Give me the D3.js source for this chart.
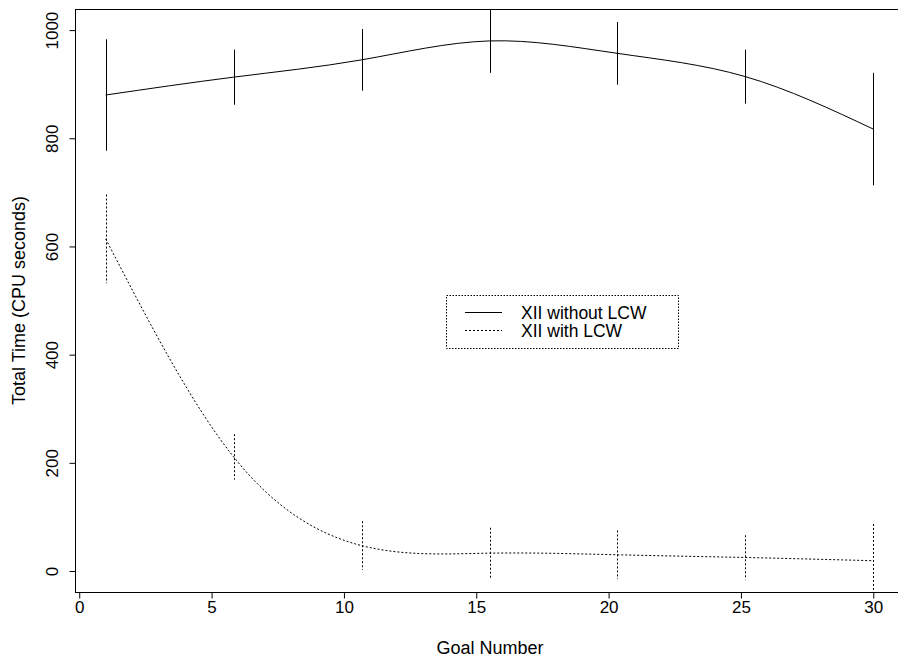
<!DOCTYPE html>
<html><head><meta charset="utf-8">
<script src="https://cdn.jsdelivr.net/npm/d3@7"></script>
<style>body{margin:0;background:#fff}svg{display:block}text{font-family:"Liberation Sans",Arial,sans-serif;fill:#000}</style>
</head><body><svg id="c" width="898" height="658"></svg>
<script>
const goals = [1, 5.833, 10.667, 15.5, 20.333, 25.167, 30];
const withoutLCW = [880, 913, 945, 980, 957, 914, 817];
const withoutLCWErr = [103, 51, 57, 59, 58, 50, 104];
const withLCW = [614, 211, 47, 33, 30, 25, 19];
const withLCWErr = [82, 42, 45, 47, 45, 41, 68];
const xTicks = [0, 5, 10, 15, 20, 25, 30];
const yTicks = [0, 200, 400, 600, 800, 1000];
const seriesNames = ["XII without LCW", "XII with LCW"];

const svg = d3.select("#c");
const L = 75, T = 9, B = 592, R = 904;
const x = d3.scaleLinear().domain([-0.16, 31.16]).range([L, R]);
const y = d3.scaleLinear().domain([-38.8, 1039]).range([B, T]);

svg.append("clipPath").attr("id","clip").append("rect").attr("x",L).attr("y",T).attr("width",R-L).attr("height",B-T);

// frame
svg.append("rect").attr("x",L+0.5).attr("y",T+0.5).attr("width",R-L).attr("height",B-T)
  .attr("fill","none").attr("stroke","#000").attr("stroke-width",1);

// x axis
const xa = svg.append("g").attr("transform",`translate(0,${B+0.5})`)
  .call(d3.axisBottom(x).tickValues(xTicks).tickSize(6).tickFormat(d3.format("d")));
xa.select(".domain").remove();
xa.selectAll("line").attr("stroke","#000");
xa.selectAll("text").attr("font-size",17).attr("y",8).attr("dy","0.71em").style("font-family",'"Liberation Sans",Arial,sans-serif');

// y axis
const ya = svg.append("g").attr("transform",`translate(${L+0.5},0)`)
  .call(d3.axisLeft(y).tickValues(yTicks).tickSize(6).tickFormat(d3.format("d")));
ya.select(".domain").remove();
ya.selectAll("line").attr("stroke","#000");
ya.selectAll("text").attr("font-size",17).attr("x",null).attr("dy",null)
  .attr("text-anchor","middle")
  .attr("transform","translate(-18,0) rotate(-90)")
  .style("font-family",'"Liberation Sans",Arial,sans-serif');

// titles
svg.append("text").attr("x",490).attr("y",654).attr("text-anchor","middle").attr("font-size",18).text("Goal Number");
svg.append("text").attr("transform",`translate(25,${(T+B)/2}) rotate(-90)`).attr("text-anchor","middle").attr("font-size",18).text("Total Time (CPU seconds)");

const g = svg.append("g").attr("clip-path","url(#clip)");
const line = d3.line().x(d=>x(d[0])).y(d=>y(d[1])).curve(d3.curveNatural);

function drawSeries(vals, errs, dash){
  const pts = goals.map((gx,i)=>[gx, vals[i]]);
  g.append("path").attr("d", line(pts)).attr("fill","none").attr("stroke","#000").attr("stroke-width",1)
    .attr("stroke-dasharray", dash);
  g.selectAll(null).data(goals).enter().append("line")
    .attr("x1",(d)=>Math.round(x(d))+0.5).attr("x2",(d)=>Math.round(x(d))+0.5)
    .attr("y1",(d,i)=>y(vals[i]+errs[i])).attr("y2",(d,i)=>y(vals[i]-errs[i]))
    .attr("stroke","#000").attr("stroke-width",1).attr("stroke-dasharray",dash);
}
drawSeries(withoutLCW, withoutLCWErr, null);
drawSeries(withLCW, withLCWErr, "2,2");

// legend
const lg = svg.append("g");
lg.append("rect").attr("x",446.5).attr("y",295.5).attr("width",232).attr("height",53)
  .attr("fill","none").attr("stroke","#000").attr("stroke-dasharray","1.5,1.5");
[[312.5,null],[330.5,"2,2"]].forEach((r,i)=>{
  lg.append("line").attr("x1",465).attr("x2",502).attr("y1",r[0]).attr("y2",r[0])
    .attr("stroke","#000").attr("stroke-dasharray",r[1]);
  lg.append("text").attr("x",521).attr("y",r[0]+6).attr("font-size",17.5).text(seriesNames[i]);
});
</script></body></html>
